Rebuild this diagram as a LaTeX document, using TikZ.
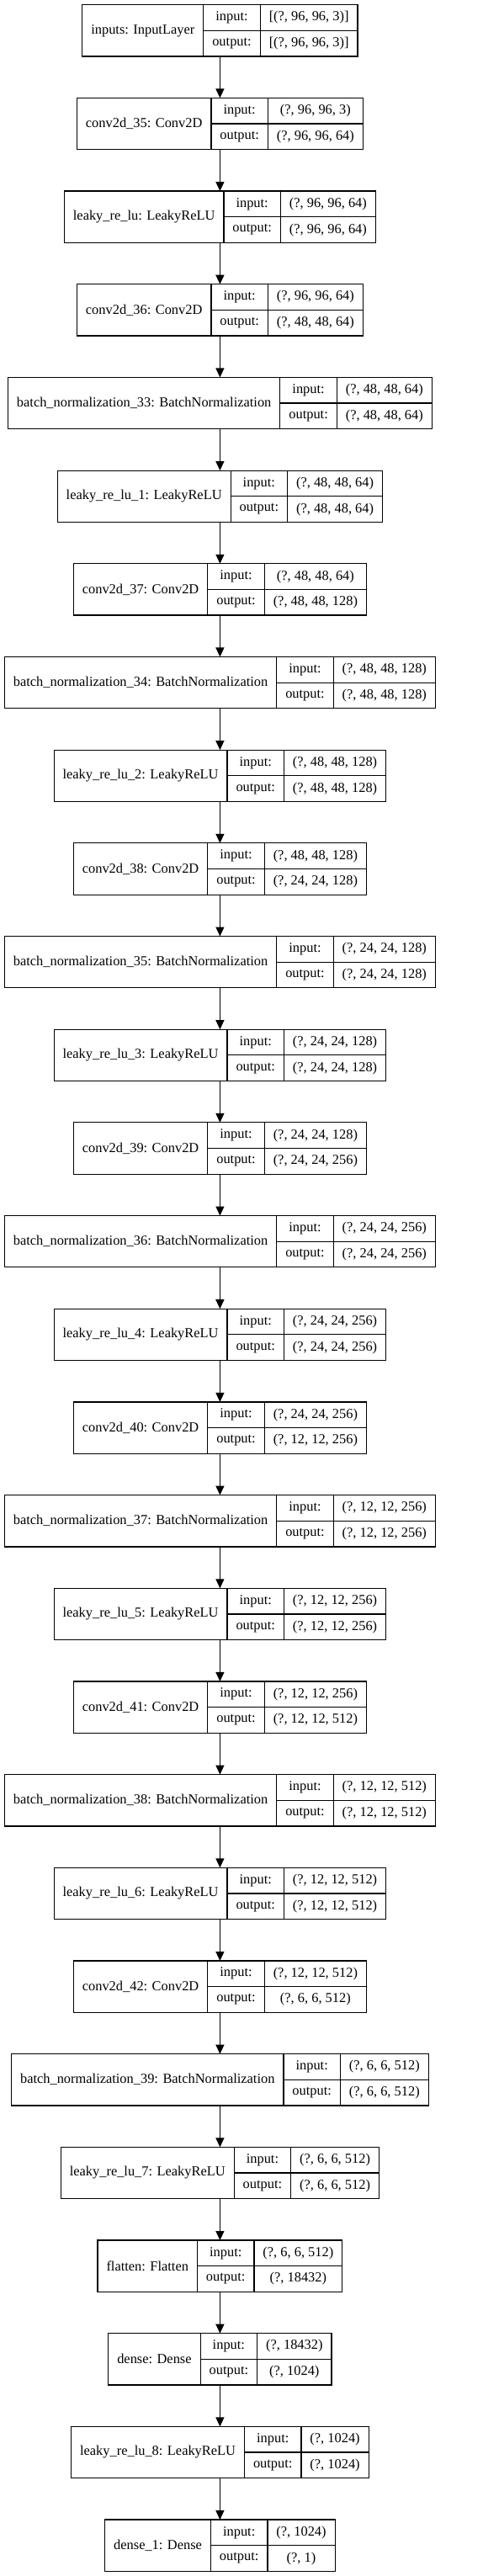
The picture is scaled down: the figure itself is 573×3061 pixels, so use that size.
\documentclass[tikz,border=0pt]{standalone}
\usepackage{fontspec}
\setmainfont{Liberation Serif}
\usepackage{tikz}
\usetikzlibrary{arrows.meta}

\newdimen\wlab
\newdimen\wvin
\newdimen\wvout
\newdimen\wiocol
\newdimen\wtmp
\newcommand\layerfont{\fontsize{16.4}{19.7}\selectfont}
% width of a text in the layer font, also inside a picture
\newcommand\measure[2]{\pgfinterruptpicture\layerfont\settowidth{\wtmp}{#2}\global#1=\wtmp\endpgfinterruptpicture}

\tikzset{
  layerbox/.style={draw, line width=1.2pt, minimum height=61.3pt, inner sep=0pt, outer sep=0pt},
  rule/.style={line width=1.2pt},
  txt/.style={inner sep=0pt, font=\layerfont},
  flow/.style={line width=1.2pt, -{Triangle[width=10pt,length=11pt]}}
}

\begin{document}
\begin{tikzpicture}[x=1pt,y=1pt]
    \useasboundingbox (0,0) rectangle (573,-3061);
    \measure\wiocol{output:}
    \pgfmathsetmacro{\wio}{\the\wiocol+21}
    % one record per layer: label | input:/output: | shapes
    \foreach \k/\lab/\vin/\vout in {
        0/{inputs: InputLayer}/{[(?, 96, 96, 3)]}/{[(?, 96, 96, 3)]},
        1/{conv2d\_35: Conv2D}/{(?, 96, 96, 3)}/{(?, 96, 96, 64)},
        2/{leaky\_re\_lu: LeakyReLU}/{(?, 96, 96, 64)}/{(?, 96, 96, 64)},
        3/{conv2d\_36: Conv2D}/{(?, 96, 96, 64)}/{(?, 48, 48, 64)},
        4/{batch\_normalization\_33: BatchNormalization}/{(?, 48, 48, 64)}/{(?, 48, 48, 64)},
        5/{leaky\_re\_lu\_1: LeakyReLU}/{(?, 48, 48, 64)}/{(?, 48, 48, 64)},
        6/{conv2d\_37: Conv2D}/{(?, 48, 48, 64)}/{(?, 48, 48, 128)},
        7/{batch\_normalization\_34: BatchNormalization}/{(?, 48, 48, 128)}/{(?, 48, 48, 128)},
        8/{leaky\_re\_lu\_2: LeakyReLU}/{(?, 48, 48, 128)}/{(?, 48, 48, 128)},
        9/{conv2d\_38: Conv2D}/{(?, 48, 48, 128)}/{(?, 24, 24, 128)},
        10/{batch\_normalization\_35: BatchNormalization}/{(?, 24, 24, 128)}/{(?, 24, 24, 128)},
        11/{leaky\_re\_lu\_3: LeakyReLU}/{(?, 24, 24, 128)}/{(?, 24, 24, 128)},
        12/{conv2d\_39: Conv2D}/{(?, 24, 24, 128)}/{(?, 24, 24, 256)},
        13/{batch\_normalization\_36: BatchNormalization}/{(?, 24, 24, 256)}/{(?, 24, 24, 256)},
        14/{leaky\_re\_lu\_4: LeakyReLU}/{(?, 24, 24, 256)}/{(?, 24, 24, 256)},
        15/{conv2d\_40: Conv2D}/{(?, 24, 24, 256)}/{(?, 12, 12, 256)},
        16/{batch\_normalization\_37: BatchNormalization}/{(?, 12, 12, 256)}/{(?, 12, 12, 256)},
        17/{leaky\_re\_lu\_5: LeakyReLU}/{(?, 12, 12, 256)}/{(?, 12, 12, 256)},
        18/{conv2d\_41: Conv2D}/{(?, 12, 12, 256)}/{(?, 12, 12, 512)},
        19/{batch\_normalization\_38: BatchNormalization}/{(?, 12, 12, 512)}/{(?, 12, 12, 512)},
        20/{leaky\_re\_lu\_6: LeakyReLU}/{(?, 12, 12, 512)}/{(?, 12, 12, 512)},
        21/{conv2d\_42: Conv2D}/{(?, 12, 12, 512)}/{(?, 6, 6, 512)},
        22/{batch\_normalization\_39: BatchNormalization}/{(?, 6, 6, 512)}/{(?, 6, 6, 512)},
        23/{leaky\_re\_lu\_7: LeakyReLU}/{(?, 6, 6, 512)}/{(?, 6, 6, 512)},
        24/{flatten: Flatten}/{(?, 6, 6, 512)}/{(?, 18432)},
        25/{dense: Dense}/{(?, 18432)}/{(?, 1024)},
        26/{leaky\_re\_lu\_8: LeakyReLU}/{(?, 1024)}/{(?, 1024)},
        27/{dense\_1: Dense}/{(?, 1024)}/{(?, 1)}}{
        \measure\wlab{\lab}
        \measure\wvin{\vin}
        \measure\wvout{\vout}
        \pgfmathsetmacro{\wl}{\the\wlab+21}
        \pgfmathsetmacro{\wv}{max(\the\wvin,\the\wvout)+21}
        \pgfmathsetmacro{\W}{\wl+\wio+\wv}
        \pgfmathsetmacro{\yt}{-5.7-110.68*\k}
        \pgfmathsetmacro{\xa}{\wl/2}
        \pgfmathsetmacro{\xb}{\wl+\wio/2}
        \pgfmathsetmacro{\xc}{\wl+\wio}
        \pgfmathsetmacro{\xd}{\wl+\wio+\wv/2}
        \node[layerbox, minimum width=\W pt, anchor=north] (b\k) at (261.4,\yt) {};
        \draw[rule] ([xshift=\wl pt]b\k.north west) -- ([xshift=\wl pt]b\k.south west);
        \draw[rule] ([xshift=\xc pt]b\k.north west) -- ([xshift=\xc pt]b\k.south west);
        \draw[rule] ([xshift=\wl pt]b\k.west) -- (b\k.east);
        \node[txt] (l\k) at ([shift={(\xa,-30.65)}]b\k.north west) {\lab};
        \node[txt] (i\k) at ([shift={(\xb,-15.3)}]b\k.north west) {input:};
        \node[txt] (o\k) at ([shift={(\xb,-46)}]b\k.north west) {output:};
        \node[txt] (vi\k) at ([shift={(\xd,-15.3)}]b\k.north west) {\vin};
        \node[txt] (vo\k) at ([shift={(\xd,-46)}]b\k.north west) {\vout};
    }
    \foreach \k [evaluate=\k as \j using int(\k+1)] in {0,...,26}
        \draw[flow] (b\k.south) -- (b\j.north);
\end{tikzpicture}
\end{document}
